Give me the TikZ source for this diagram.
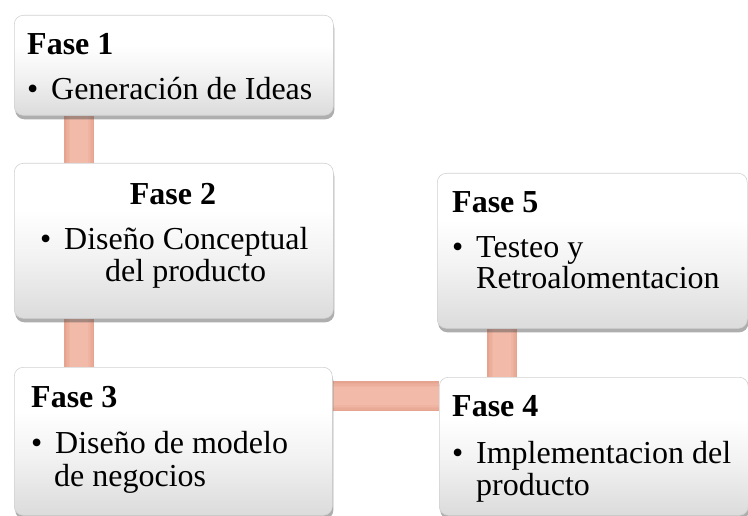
\documentclass[tikz,border=0pt]{standalone}
\usepackage{fontspec}
\setmainfont{Liberation Serif}
\usetikzlibrary{shadows,calc}
\definecolor{connc}{RGB}{242,186,168}
\definecolor{conndark}{RGB}{230,164,144}
\newcommand\bul{\makebox[24pt][l]{•}}
\pgfdeclarelayer{back}
\pgfdeclarelayer{bg}
\pgfsetlayers{back,bg,main}
\pgfdeclareverticalshading{boxshade}{100bp}{color(0bp)=(black!14); color(25bp)=(black!14); color(45bp)=(black!5); color(60bp)=(white); color(100bp)=(white)}
\tikzset{
  box/.style={draw=black!18, line width=0.6pt, rounded corners=9pt, anchor=north west, inner sep=0pt,
    shading=boxshade,
    drop shadow={shadow xshift=1pt, shadow yshift=-4pt, opacity=0.45, fill=black!70}},
  txt/.style={anchor=base west, inner sep=0pt, font=\fontsize{32}{34}\selectfont},
  ttl/.style={txt, font=\fontsize{32}{34}\selectfont\bfseries},
  connl/.style={line width=#1}
}
\begin{document}
\begin{tikzpicture}[x=1pt,y=-1pt]
\path[use as bounding box, clip] (0,0) rectangle (748,516);
\begin{pgfonlayer}{back}
\fill[white] (0,0) rectangle (748,516);
\end{pgfonlayer}
% boxes
\node[box, minimum width=319pt, minimum height=100pt] (b1) at (14,15) {};
\node[box, minimum width=319pt, minimum height=155pt] (b2) at (14,163) {};
\node[box, minimum width=318pt, minimum height=148pt] (b3) at (14,367) {};
\node[box, minimum width=309pt, minimum height=138pt] (b4) at (439,377) {};
\node[box, minimum width=310pt, minimum height=155pt] (b5) at (437,173) {};
% connectors
\begin{pgfonlayer}{bg}
\foreach \w/\m in {30/0,27/25,24/50,21/75,18/100}{
  \begin{scope}[draw=connc!\m!conndark, line width=\w pt]
  \draw ([xshift=65pt]b1.south west) -- ([xshift=65pt]b2.north west);
  \draw ([xshift=65pt]b2.south west) -- ([xshift=65pt]b3.north west);
  \draw ([yshift=-29pt]b3.north east) -- ([yshift=-29pt]b3.north east -| b4.west);
  \draw ([xshift=65pt]b5.south west) -- ([xshift=65pt]b5.south west |- b4.north);
  \end{scope}
}
\end{pgfonlayer}
% texts
\node[ttl] (t1) at (27,55) {Fase 1};
\node[txt] (t1a) at (27,100) {\bul Generación de Ideas};
\node[ttl, anchor=base] (t2) at (173,205) {Fase 2};
\node[txt] (t2a) at (40,250) {\bul Diseño Conceptual};
\node[txt] (t2b) at (105,282) {del producto};
\node[ttl] (t3) at (31,407) {Fase 3};
\node[txt] (t3a) at (31,453) {\bul Diseño de modelo};
\node[txt] (t3b) at (54,486) {de negocios};
\node[ttl] (t4) at (452,416) {Fase 4};
\node[txt] (t4a) at (452,463) {\bul Implementacion del};
\node[txt] (t4b) at (476,495) {producto};
\node[ttl] (t5) at (452,213) {Fase 5};
\node[txt] (t5a) at (452,258) {\bul Testeo y};
\node[txt] (t5b) at (476,288) {Retroalomentacion};
\end{tikzpicture}
\end{document}
